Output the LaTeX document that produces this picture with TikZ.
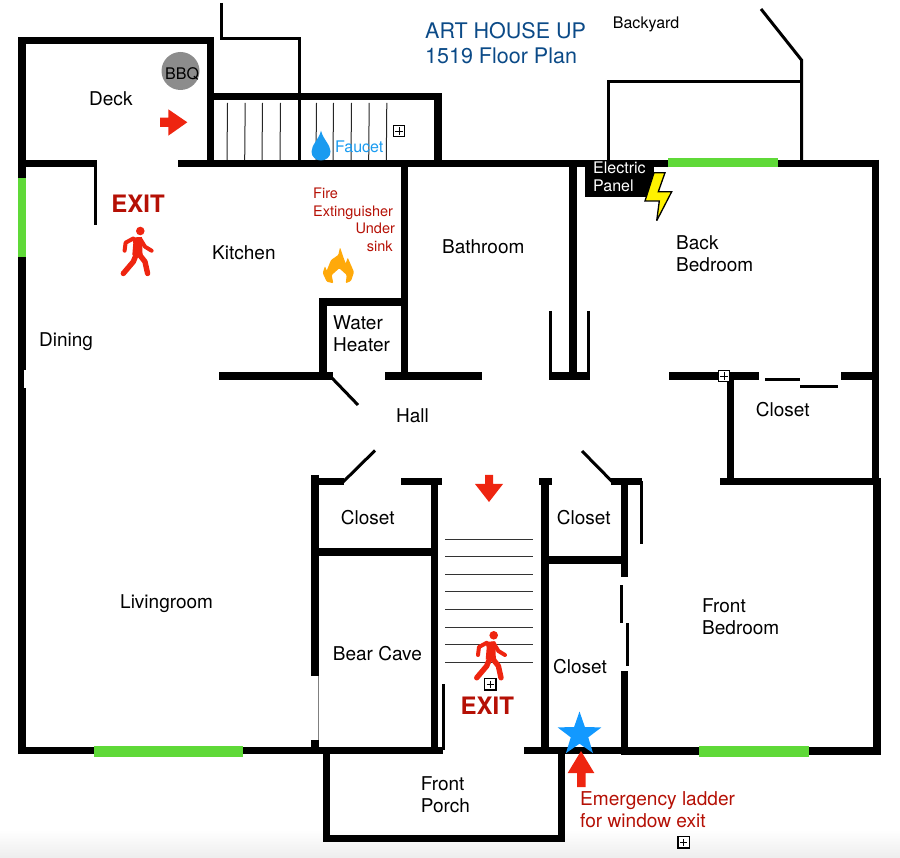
\documentclass[tikz,border=0pt]{standalone}
\usepackage{fontspec}
\usepackage{tikz}
\usetikzlibrary{shapes.geometric}
\setmainfont{TeX Gyre Heros}
\definecolor{wingreen}{HTML}{5FD938}
\definecolor{arrowred}{HTML}{EE2510}
\definecolor{textred}{HTML}{B51005}
\definecolor{titleblue}{HTML}{0B4A87}
\definecolor{waterblue}{HTML}{1A9BF0}
\definecolor{starblue}{HTML}{1299FF}
\definecolor{flameorange}{HTML}{FFA90A}
\tikzset{
    plusbox/.pic={
        \draw[fill=white,line width=1.1pt] (-5.7,-5.7) rectangle (5.7,5.7);
        \draw[line width=.9pt] (-3.7,0) -- (3.7,0) (0,-3.7) -- (0,3.7);
    },
    walker/.pic={
        \fill[arrowred] (0,0) circle (4.3);
        \fill[arrowred] (-8.5,6.5) -- (1.5,6) -- (2,10) -- (2,20) -- (2.5,25) -- (-8,24) -- (-7,12) -- cycle;
        \draw[arrowred,line width=4pt,line cap=round,line join=round] (-7,7.5) -- (-14.7,11.7) -- (-15.7,19.7);
        \draw[arrowred,line width=4pt,line cap=round,line join=round] (0,8) -- (4.7,15.7) -- (11.3,19.7);
        \draw[arrowred,line width=5.4pt,line cap=round,line join=round] (-3,21) -- (-7,30.7) -- (-17,42.5);
        \draw[arrowred,line width=5.4pt,line cap=round,line join=round] (-3,21) -- (4.7,30.7) -- (7.3,42.5);
    }
}
\begin{document}
\begin{tikzpicture}[x=1pt,y=-1pt]
    \tikzstyle{wall}=[line width=7.5pt,black]
    \tikzstyle{thinwall}=[line width=3pt,black]
    \tikzstyle{yardline}=[line width=3pt,black]
    \tikzstyle{tread}=[line width=1pt,black!80]
    \tikzstyle{window}=[fill=wingreen,draw=none]
    \tikzstyle{redarrow}=[fill=arrowred,draw=none]
    \tikzstyle{roomtext}=[font=\fontsize{19}{22}\selectfont,anchor=base west,inner sep=0pt,yshift=-.7pt]
    \tikzstyle{titletext}=[font=\fontsize{21.5}{24}\selectfont,anchor=base west,inner sep=0pt,text=titleblue,yshift=-.7pt]
    \tikzstyle{paneltext}=[font=\fontsize{16}{18}\selectfont,anchor=base west,inner sep=0pt,text=white,yshift=-.7pt]
    \tikzstyle{firetext}=[font=\fontsize{14.5}{17}\selectfont,anchor=base west,inner sep=0pt,text=textred,yshift=-.7pt]
    \tikzstyle{laddertext}=[font=\fontsize{19.1}{22}\selectfont,anchor=base west,inner sep=0pt,text=textred,yshift=-.7pt]
    \tikzstyle{exittext}=[font=\fontsize{24}{28}\selectfont\bfseries,anchor=base west,inner sep=0pt,text=textred,yshift=-.7pt]
    \useasboundingbox (0,0) rectangle (900,858);
    \shade[top color=white,bottom color=black!7] (0,830) rectangle (900,858);

    \draw[yardline] (221,3) -- (221,38.5) -- (299.5,38.5) -- (299.5,163);
    \draw[yardline] (608,163) -- (608,81.5) -- (803,81.5);
    \draw[yardline] (761,9) -- (801.5,60) -- (801.5,163);

    \foreach \x in {227,244.7,262,280,316,333,351,368.7,386.3}
        \draw[line width=1pt,black!85] (\x+.5,103) -- (\x,160);
    \foreach \y in {539,556.7,574,591.7,609.3,627,644.7,662}
        \draw[tread] (445,\y) -- (533,\y);

    \draw[wall] (22,754) -- (22,40.5) -- (210.5,40.5) -- (210.5,167);
    \draw[wall] (207,96.5) -- (438,96.5) -- (438,167);
    \draw[wall] (18,163.5) -- (97,163.5);
    \draw[wall] (178,163.5) -- (879,163.5);
    \draw[line width=3pt] (95.5,163) -- (95.5,225);
    \draw[wall] (875.5,160) -- (875.5,485);
    \draw[wall] (877,478) -- (877,755);
    \draw[wall] (18,750.5) -- (443,750.5);
    \draw[wall] (524,750.5) -- (622,750.5);
    \draw[wall] (621,751) -- (881,751);

    \draw[wall] (404.5,163) -- (404.5,380);
    \draw[wall] (319,302) -- (404.5,302);
    \draw[wall] (323,298) -- (323,380);
    \draw[wall] (219,376) -- (333,376);
    \draw[wall] (385,376) -- (482,376);
    \draw[line width=3pt] (331,377) -- (358,405);

    \draw[wall] (573,163) -- (573,380);
    \draw[wall] (549,376) -- (590,376);
    \draw[thinwall] (550.5,311) -- (550.5,376);
    \draw[thinwall] (588.5,311) -- (588.5,376);

    \draw[wall] (669.3,376) -- (759,376);
    \draw[wall] (841,376) -- (873,376);
    \draw[thinwall] (765,379.5) -- (800,379.5);
    \draw[thinwall] (800,387) -- (838,387);
    \draw[wall] (730.5,376) -- (730.5,482);
    \draw[wall] (720,481.5) -- (881,481.5);

    \draw[wall] (315,475) -- (315,676);
    \draw[line width=.6pt,black!50] (318,676) -- (318,741);
    \draw[wall] (315,740) -- (315,750);
    \draw[wall] (315,481.5) -- (344,481.5);
    \draw[line width=3pt] (341.5,483.5) -- (375,450.5);
    \draw[wall] (401,481.5) -- (442,481.5);
    \draw[wall] (315,552) -- (434.5,552);
    \draw[wall] (434.5,478) -- (434.5,750);
    \draw[thinwall] (443.5,684) -- (443.5,750);

    \draw[wall] (539,481.5) -- (552,481.5);
    \draw[wall] (545,478) -- (545,750);
    \draw[wall] (545,560) -- (628,560);
    \draw[wall] (611,481.5) -- (642,481.5);
    \draw[line width=3pt] (582,451) -- (612,481.5);
    \draw[thinwall] (641,481) -- (641,544);
    \draw[wall] (624.5,481) -- (624.5,577);
    \draw[thinwall] (621,585) -- (621,623);
    \draw[thinwall] (627.5,623) -- (627.5,666);
    \draw[wall] (624.5,671) -- (624.5,751);

    \draw[wall] (326.5,750) -- (326.5,838.5) -- (561.5,838.5) -- (561.5,750);

    \fill[white] (24,370.5) rectangle (26,388);
    \fill[window] (18,178) rectangle (25.7,257);
    \fill[window] (668,158.5) rectangle (778,167);
    \fill[window] (94,745.7) rectangle (243,757);
    \fill[window] (699,746) rectangle (809,757);

    \fill[black] (585,166) rectangle (654,197);
    \draw[fill=yellow,line width=1.3pt,miter limit=4] (654,172.7) -- (665,172.7) -- (658.3,191.7) -- (671.7,191.7) -- (656.7,220.7) -- (659.3,201) -- (645,201) -- cycle;

    \fill[black!45] (180.5,71) circle (19);
    \fill[redarrow] (160,117.7) -- (168.3,117.7) -- (168.3,109.3) -- (187.3,122.3) -- (168.3,135.7) -- (168.3,127) -- (160,127) -- cycle;
    \fill[redarrow] (485,475) -- (493,475) -- (493,484) -- (503,484) -- (489,502) -- (475,484) -- (485,484) -- cycle;
    \fill[redarrow] (581,751) -- (594.3,773) -- (585.7,773) -- (585.7,787) -- (577,787) -- (577,773) -- (567.7,773) -- cycle;

    \fill[waterblue] (321,130.7) .. controls (323,139) and (330.5,145) .. (330.5,151.5) .. controls (330.5,157) and (326,160.5) .. (321,160.5) .. controls (316,160.5) and (311.5,157) .. (311.5,151.5) .. controls (311.5,145) and (319,139) .. (321,130.7) -- cycle;
    \fill[flameorange,rounded corners=1pt] (340,247.3) -- (343.3,257) -- (345.7,263.5) -- (347.7,257.5) -- (354,272) -- (351,281) -- (345.7,283.3) -- (346.7,275) -- (339.3,268.3) -- (331.7,275) -- (333.3,283.3) -- (326.7,281.7) -- (322.7,273) -- (325,266) -- (326.7,270.7) -- (331,260) -- (338.3,255) -- cycle;
    \node[star,star points=5,star point ratio=2.5,fill=starblue,inner sep=0pt,minimum size=46pt] (ladderstar) at (579.5,734.5) {};

    \pic at (140.3,231) {walker};
    \pic at (493.7,635.3) {walker};
    \pic at (399,131) {plusbox};
    \pic at (724,376) {plusbox};
    \pic at (490.3,684.3) {plusbox};
    \pic at (683.7,842.3) {plusbox};

    \node[titletext] (titleone) at (425,38) {ART HOUSE UP};
    \node[titletext] (titletwo) at (425,63) {1519 Floor Plan};
    \node[roomtext,font=\fontsize{16}{18}\selectfont] (backyard) at (612.7,27.5) {Backyard};
    \node[roomtext] (deck) at (89,105) {Deck};
    \node[roomtext,font=\fontsize{16}{18}\selectfont] (bbq) at (165,79) {BBQ};
    \node[roomtext,font=\fontsize{16}{18}\selectfont,text=waterblue] (faucet) at (335,151.7) {Faucet};
    \node[exittext] (exitone) at (111.2,211.7) {EXIT};
    \node[exittext] (exittwo) at (460.5,714) {EXIT};
    \node[firetext] (fire) at (313,198) {Fire};
    \node[firetext] (extinguisher) at (313,216) {Extinguisher};
    \node[firetext] (under) at (355.3,233.3) {Under};
    \node[firetext] (sink) at (366.7,250.7) {sink};
    \node[paneltext] (electric) at (593,173.3) {Electric};
    \node[paneltext] (panel) at (593,191) {Panel};
    \node[roomtext] (kitchen) at (212,259) {Kitchen};
    \node[roomtext] (dining) at (39,346) {Dining};
    \node[roomtext] (bathroom) at (442,253) {Bathroom};
    \node[roomtext] (back) at (676,249.3) {Back};
    \node[roomtext] (backbedroom) at (676,270.7) {Bedroom};
    \node[roomtext] (water) at (333,329) {Water};
    \node[roomtext] (heater) at (333,350.7) {Heater};
    \node[roomtext] (hall) at (396,422) {Hall};
    \node[roomtext] (closetback) at (755.7,416) {Closet};
    \node[roomtext] (closetleft) at (340.7,524) {Closet};
    \node[roomtext] (closetmid) at (556.7,524) {Closet};
    \node[roomtext] (closetlow) at (553,673) {Closet};
    \node[roomtext] (bearcave) at (332.7,660) {Bear Cave};
    \node[roomtext] (livingroom) at (120,608) {Livingroom};
    \node[roomtext] (front) at (702,612) {Front};
    \node[roomtext] (frontbedroom) at (702,634) {Bedroom};
    \node[roomtext] (frontp) at (420.7,790) {Front};
    \node[roomtext] (porch) at (420.7,811.7) {Porch};
    \node[laddertext] (emergency) at (580,804.7) {Emergency ladder};
    \node[laddertext] (forwindow) at (580,826.7) {for window exit};
\end{tikzpicture}
\end{document}
